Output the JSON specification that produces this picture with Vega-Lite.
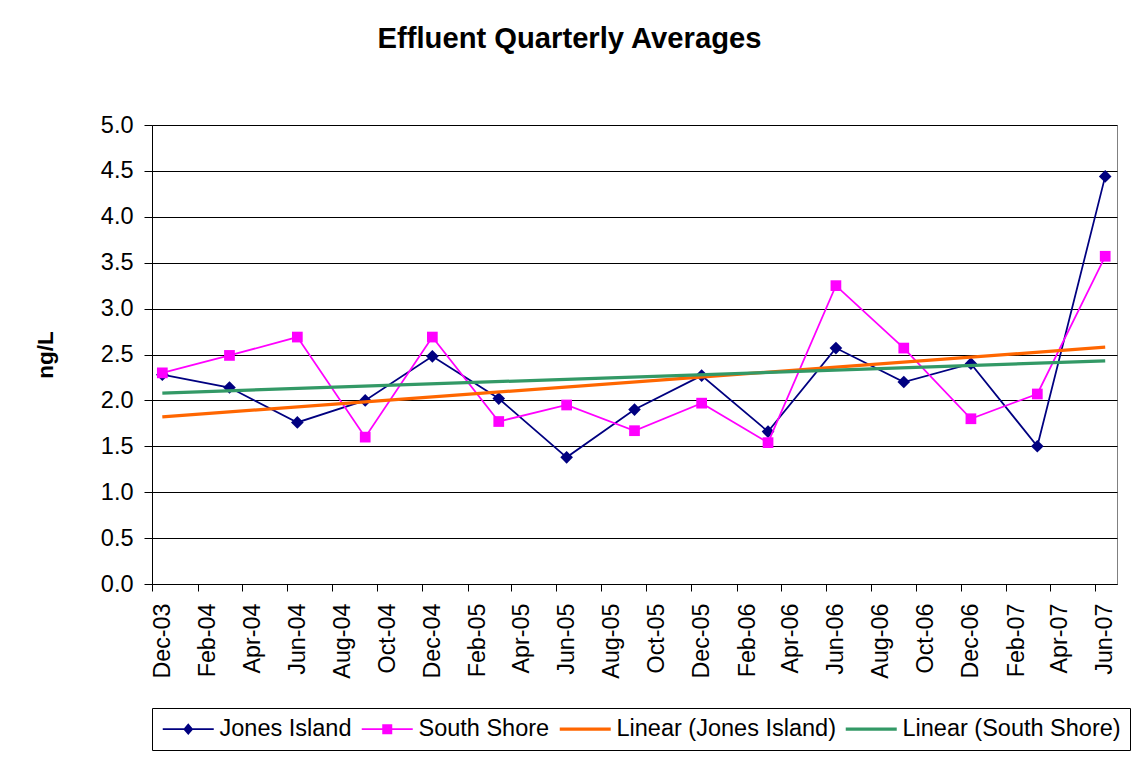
{
  "$schema": "https://vega.github.io/schema/vega-lite/v6.json",
  "width": 965,
  "height": 459,
  "autosize": {"type": "none"},
  "padding": {"left": 152, "top": 125, "right": 17, "bottom": 174},
  "background": "white",
  "title": {
    "text": "Effluent Quarterly Averages",
    "font": "Liberation Sans",
    "fontSize": 29.2,
    "fontWeight": "bold",
    "color": "black",
    "anchor": "middle",
    "dx": -65,
    "offset": 59
  },
  "data": {
    "values": [
      {"date": "2003-12-15T00:00:00", "series": "Jones Island", "value": 2.28},
      {"date": "2004-03-15T00:00:00", "series": "Jones Island", "value": 2.14},
      {"date": "2004-06-15T00:00:00", "series": "Jones Island", "value": 1.76},
      {"date": "2004-09-15T00:00:00", "series": "Jones Island", "value": 2.00},
      {"date": "2004-12-15T00:00:00", "series": "Jones Island", "value": 2.48},
      {"date": "2005-03-15T00:00:00", "series": "Jones Island", "value": 2.02},
      {"date": "2005-06-15T00:00:00", "series": "Jones Island", "value": 1.38},
      {"date": "2005-09-15T00:00:00", "series": "Jones Island", "value": 1.90},
      {"date": "2005-12-15T00:00:00", "series": "Jones Island", "value": 2.27},
      {"date": "2006-03-15T00:00:00", "series": "Jones Island", "value": 1.66},
      {"date": "2006-06-15T00:00:00", "series": "Jones Island", "value": 2.57},
      {"date": "2006-09-15T00:00:00", "series": "Jones Island", "value": 2.20},
      {"date": "2006-12-15T00:00:00", "series": "Jones Island", "value": 2.40},
      {"date": "2007-03-15T00:00:00", "series": "Jones Island", "value": 1.50},
      {"date": "2007-06-15T00:00:00", "series": "Jones Island", "value": 4.44},
      {"date": "2003-12-15T00:00:00", "series": "South Shore", "value": 2.30},
      {"date": "2004-03-15T00:00:00", "series": "South Shore", "value": 2.49},
      {"date": "2004-06-15T00:00:00", "series": "South Shore", "value": 2.69},
      {"date": "2004-09-15T00:00:00", "series": "South Shore", "value": 1.60},
      {"date": "2004-12-15T00:00:00", "series": "South Shore", "value": 2.69},
      {"date": "2005-03-15T00:00:00", "series": "South Shore", "value": 1.77},
      {"date": "2005-06-15T00:00:00", "series": "South Shore", "value": 1.95},
      {"date": "2005-09-15T00:00:00", "series": "South Shore", "value": 1.67},
      {"date": "2005-12-15T00:00:00", "series": "South Shore", "value": 1.97},
      {"date": "2006-03-15T00:00:00", "series": "South Shore", "value": 1.54},
      {"date": "2006-06-15T00:00:00", "series": "South Shore", "value": 3.25},
      {"date": "2006-09-15T00:00:00", "series": "South Shore", "value": 2.57},
      {"date": "2006-12-15T00:00:00", "series": "South Shore", "value": 1.80},
      {"date": "2007-03-15T00:00:00", "series": "South Shore", "value": 2.07},
      {"date": "2007-06-15T00:00:00", "series": "South Shore", "value": 3.57},
      {"date": "2003-12-15T00:00:00", "series": "Linear (Jones Island)", "value": 1.82},
      {"date": "2007-06-15T00:00:00", "series": "Linear (Jones Island)", "value": 2.58},
      {"date": "2003-12-15T00:00:00", "series": "Linear (South Shore)", "value": 2.08},
      {"date": "2007-06-15T00:00:00", "series": "Linear (South Shore)", "value": 2.43}
    ]
  },
  "encoding": {
    "x": {
      "field": "date",
      "type": "temporal",
      "scale": {
        "domain": [{"year": 2003, "month": 12, "date": 1}, {"year": 2007, "month": 7, "date": 1}],
        "nice": false
      },
      "axis": {
        "values": [
          {"year": 2003, "month": 12, "date": 1},
          {"year": 2004, "month": 2, "date": 1},
          {"year": 2004, "month": 4, "date": 1},
          {"year": 2004, "month": 6, "date": 1},
          {"year": 2004, "month": 8, "date": 1},
          {"year": 2004, "month": 10, "date": 1},
          {"year": 2004, "month": 12, "date": 1},
          {"year": 2005, "month": 2, "date": 1},
          {"year": 2005, "month": 4, "date": 1},
          {"year": 2005, "month": 6, "date": 1},
          {"year": 2005, "month": 8, "date": 1},
          {"year": 2005, "month": 10, "date": 1},
          {"year": 2005, "month": 12, "date": 1},
          {"year": 2006, "month": 2, "date": 1},
          {"year": 2006, "month": 4, "date": 1},
          {"year": 2006, "month": 6, "date": 1},
          {"year": 2006, "month": 8, "date": 1},
          {"year": 2006, "month": 10, "date": 1},
          {"year": 2006, "month": 12, "date": 1},
          {"year": 2007, "month": 2, "date": 1},
          {"year": 2007, "month": 4, "date": 1},
          {"year": 2007, "month": 6, "date": 1}
        ],
        "format": "%b-%y",
        "labelAngle": -90,
        "labelFontSize": 23.3,
        "labelOffset": 10,
        "labelPadding": 12,
        "tickSize": 7,
        "labelFlush": false,
        "labelOverlap": false,
        "grid": false,
        "title": null
      }
    },
    "y": {
      "field": "value",
      "type": "quantitative",
      "scale": {"domain": [0, 5], "nice": false},
      "axis": {
        "values": [0, 0.5, 1, 1.5, 2, 2.5, 3, 3.5, 4, 4.5, 5],
        "format": ".1f",
        "labelFontSize": 23.5,
        "labelPadding": 11,
        "tickSize": 8,
        "grid": true,
        "title": "ng/L",
        "titleFontSize": 22.5,
        "titleFontWeight": "bold",
        "titlePadding": 43
      }
    }
  },
  "layer": [
    {
      "transform": [{"filter": {"field": "series", "equal": "Jones Island"}}],
      "mark": {"type": "line", "color": "#000080", "strokeWidth": 1.75}
    },
    {
      "transform": [{"filter": {"field": "series", "equal": "Jones Island"}}],
      "mark": {"type": "point", "shape": "diamond", "filled": true, "color": "#000080", "size": 160, "opacity": 1}
    },
    {
      "transform": [{"filter": {"field": "series", "equal": "South Shore"}}],
      "mark": {"type": "line", "color": "#FF00FF", "strokeWidth": 1.75}
    },
    {
      "transform": [{"filter": {"field": "series", "equal": "South Shore"}}],
      "mark": {"type": "point", "shape": "square", "filled": true, "color": "#FF00FF", "size": 115, "opacity": 1}
    },
    {
      "transform": [{"filter": {"field": "series", "equal": "Linear (Jones Island)"}}],
      "mark": {"type": "line", "color": "#FF6600", "strokeWidth": 3.25}
    },
    {
      "transform": [{"filter": {"field": "series", "equal": "Linear (South Shore)"}}],
      "mark": {"type": "line", "color": "#339966", "strokeWidth": 3.25}
    },
    {
      "transform": [{"filter": {"field": "value", "lt": -1}}],
      "mark": {"type": "point", "filled": true, "opacity": 1, "size": 400, "strokeWidth": 0},
      "encoding": {
        "color": {
          "field": "series",
          "type": "nominal",
          "scale": {
            "domain": ["Jones Island", "South Shore", "Linear (Jones Island)", "Linear (South Shore)"],
            "range": ["#000080", "#FF00FF", "#FF6600", "#339966"]
          },
          "legend": {
            "orient": "bottom",
            "direction": "horizontal",
            "columns": 4,
            "title": null,
            "labelFont": "Liberation Sans",
            "labelFontSize": 23.5,
            "labelColor": "black",
            "labelLimit": 400,
            "labelOffset": 35,
            "columnPadding": 8,
            "padding": 9,
            "offset": 29,
            "strokeColor": "black",
            "fillColor": "white",
            "symbolSize": 400,
            "symbolStrokeWidth": 0,
            "symbolOpacity": 1
          }
        },
        "shape": {
          "field": "series",
          "type": "nominal",
          "scale": {
            "domain": ["Jones Island", "South Shore", "Linear (Jones Island)", "Linear (South Shore)"],
            "range": [
              "M-1,-0.08H4.1V0.08H-1Z M1.55,-0.58L2.05,0L1.55,0.58L1.05,0Z",
              "M-1,-0.08H4.1V0.08H-1Z M1.05,-0.5H2.05V0.5H1.05Z",
              "M-1,-0.16H4.1V0.16H-1Z",
              "M-1,-0.16H4.1V0.16H-1Z"
            ]
          },
          "legend": {
            "orient": "bottom",
            "direction": "horizontal",
            "columns": 4,
            "title": null
          }
        }
      }
    }
  ],
  "config": {
    "view": {"stroke": "#808080", "strokeWidth": 1},
    "axis": {
      "labelFont": "Liberation Sans",
      "titleFont": "Liberation Sans",
      "labelColor": "black",
      "titleColor": "black",
      "domainColor": "black",
      "tickColor": "black",
      "gridColor": "black",
      "gridWidth": 1,
      "domainWidth": 1,
      "tickWidth": 1
    }
  }
}
